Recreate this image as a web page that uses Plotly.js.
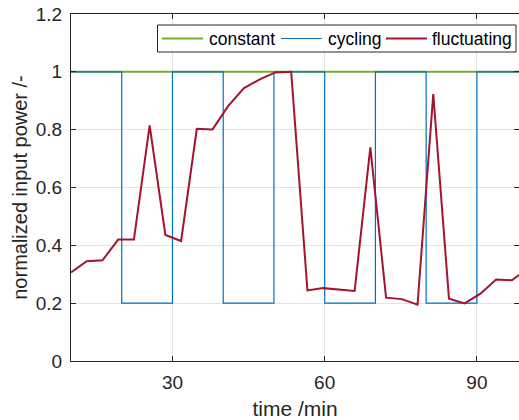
<!DOCTYPE html>
<html>
<head>
<meta charset="utf-8">
<script src="https://cdn.plot.ly/plotly-3.0.1.min.js"></script>
<style>
  html, body { margin: 0; padding: 0; background: #fff; }
  #chart { width: 519px; height: 420px; }
</style>
</head>
<body>
<div id="chart"></div>
<script>
// time axis (min)
const constantTime = [10, 100];
const constantPower = [1, 1];

// on/off cycle: full power and 20 % power, switching every 10 min
const cyclingTime = [10, 20, 30, 40, 50, 60, 70, 80, 90, 100];
const cyclingPower = [1, 0.2, 1, 0.2, 1, 0.2, 1, 0.2, 1, 1];

const fluctTime = [10, 13.1, 16.2, 19.3, 22.4, 25.5, 28.6, 31.7, 34.8, 37.9,
                   41.0, 44.1, 47.2, 50.3, 53.4, 56.6, 59.7, 62.8, 65.9, 69.0,
                   72.1, 75.2, 78.3, 81.4, 84.5, 87.6, 90.7, 93.8, 96.9, 100];
const fluctPower = [0.306, 0.345, 0.348, 0.42, 0.42, 0.815, 0.436, 0.415, 0.803, 0.801,
                    0.882, 0.944, 0.974, 0.998, 1.0, 0.244, 0.252, 0.248, 0.242, 0.739,
                    0.219, 0.214, 0.195, 0.923, 0.215, 0.199, 0.233, 0.282, 0.279, 0.32];

const seriesNames = ['constant', 'cycling', 'fluctuating'];
const seriesColors = ['#77AC30', '#0072BD', '#A2142F'];

const xTicks = [30, 60, 90];
const yTicks = [0, 0.2, 0.4, 0.6, 0.8, 1, 1.2];
const yTickText = ['0', '0.2', '0.4', '0.6', '0.8', '1', '1.2'];

const axisColor = '#262626';
const font = 'Liberation Sans, Arial, Helvetica, sans-serif';

const W = 519, H = 420;
const M = { l: 71, r: 0, t: 14, b: 59 };
const plotW = W - M.l - M.r, plotH = H - M.t - M.b;
// pixel -> paper helpers for the legend box
const px = v => (v - M.l) / plotW;
const py = v => (H - M.b - v) / plotH;

const traces = [
  { x: constantTime, y: constantPower, name: seriesNames[0], mode: 'lines',
    line: { color: seriesColors[0], width: 2 } },
  { x: cyclingTime, y: cyclingPower, name: seriesNames[1], mode: 'lines',
    line: { color: seriesColors[1], width: 1.2, shape: 'hv' } },
  { x: fluctTime, y: fluctPower, name: seriesNames[2], mode: 'lines',
    line: { color: seriesColors[2], width: 2 } }
];

// legend drawn as a framed row: swatch line + label per series
const legendBox = { x0: 157.5, x1: 516, y0: 25, y1: 52 };
const legendY = (legendBox.y0 + legendBox.y1) / 2;
const swatchX = [[162, 203], [281, 322], [386, 427]];
const labelX = [207, 325.5, 430];

const shapes = [{
  type: 'rect', xref: 'paper', yref: 'paper',
  x0: px(legendBox.x0), x1: px(legendBox.x1), y0: py(legendBox.y1), y1: py(legendBox.y0),
  fillcolor: '#fff', line: { color: axisColor, width: 1 }, layer: 'above'
}];
const annotations = [];
seriesNames.forEach((n, i) => {
  shapes.push({
    type: 'line', xref: 'paper', yref: 'paper',
    x0: px(swatchX[i][0]), x1: px(swatchX[i][1]), y0: py(legendY), y1: py(legendY),
    line: { color: seriesColors[i], width: i === 1 ? 1.2 : 2 }, layer: 'above'
  });
  annotations.push({
    xref: 'paper', yref: 'paper', x: px(labelX[i]), y: py(legendY + 0.5),
    xanchor: 'left', yanchor: 'middle', showarrow: false, text: n,
    font: { family: font, size: 17.5, color: '#000' }
  });
});

const layout = {
  width: W, height: H,
  margin: M,
  paper_bgcolor: '#fff', plot_bgcolor: '#fff',
  font: { family: font, size: 19, color: axisColor },
  showlegend: false,
  shapes: shapes,
  annotations: annotations,
  xaxis: {
    range: [10, 98.3], tickvals: xTicks, ticktext: xTicks.map(String),
    ticks: 'inside', ticklen: 5, tickcolor: axisColor, mirror: 'ticks',
    showline: true, linecolor: axisColor, linewidth: 1,
    showgrid: true, gridcolor: '#e3e3e3', zeroline: false,
    tickfont: { size: 19, color: axisColor }, ticklabelstandoff: 4,
    title: { text: 'time /min', font: { size: 21, color: axisColor }, standoff: 9 }
  },
  yaxis: {
    range: [0, 1.2], tickvals: yTicks, ticktext: yTickText,
    ticks: 'inside', ticklen: 5, tickcolor: axisColor, mirror: 'ticks',
    showline: true, linecolor: axisColor, linewidth: 1,
    showgrid: true, gridcolor: '#e3e3e3', zeroline: false,
    tickfont: { size: 19, color: axisColor }, ticklabelstandoff: 4,
    title: { text: 'normalized input power /-', font: { size: 20, color: axisColor }, standoff: 2 }
  }
};

Plotly.newPlot('chart', traces, layout, { displayModeBar: false, staticPlot: true });
</script>
</body>
</html>
